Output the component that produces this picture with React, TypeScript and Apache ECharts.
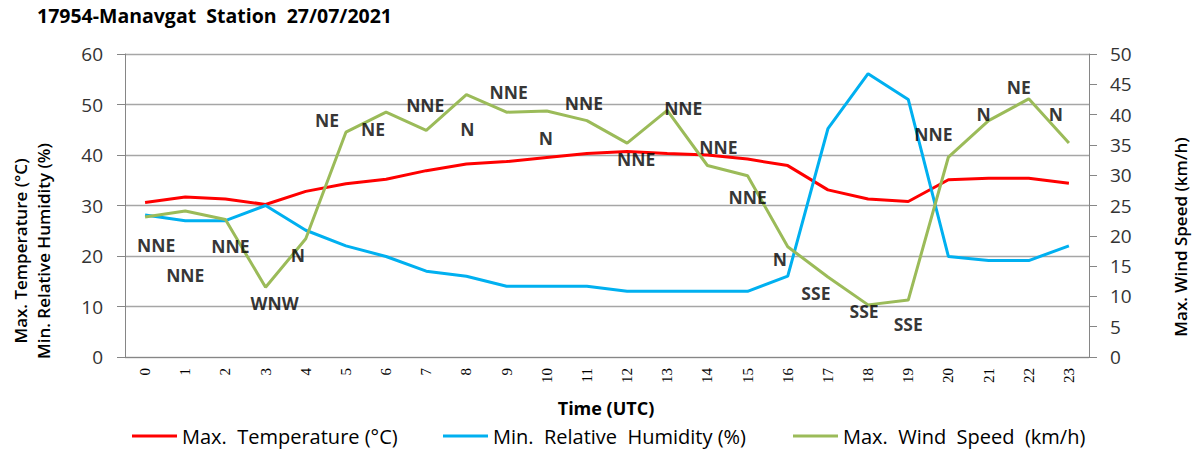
import React, { useEffect, useRef } from "react";
import * as echarts from "echarts";

const hours = ["0","1","2","3","4","5","6","7","8","9","10","11","12","13","14","15","16","17","18","19","20","21","22","23"];
const maxTemperature = [30.6, 31.7, 31.3, 30.2, 32.8, 34.3, 35.2, 36.9, 38.2, 38.7, 39.5, 40.3, 40.7, 40.3, 40.0, 39.2, 37.9, 33.1, 31.3, 30.8, 35.1, 35.4, 35.4, 34.4];
const minHumidity = [28.1, 27.0, 27.0, 30.0, 25.1, 22.0, 19.9, 17.0, 16.0, 14.0, 14.0, 14.0, 13.0, 13.0, 13.0, 13.0, 16.0, 45.2, 56.1, 51.0, 19.9, 19.1, 19.1, 22.0];
const maxWindSpeed = [23.1, 24.1, 22.7, 11.5, 19.5, 37.1, 40.4, 37.4, 43.3, 40.4, 40.6, 39.0, 35.3, 40.7, 31.6, 29.9, 18.2, 13.2, 8.6, 9.4, 33.0, 39.0, 42.6, 35.3];
const windDirection = ["NNE","NNE","NNE","WNW","N","NE","NE","NNE","N","NNE","N","NNE","NNE","NNE","NNE","NNE","N","SSE","SSE","SSE","NNE","N","NE","N"];

const seriesNames = ["Max.  Temperature (°C)", "Min.  Relative  Humidity (%)", "Max.  Wind  Speed  (km/h)"];

// layout: label offsets (px) relative to each wind point
const labelOffsets = [
  [11, 28], [0, 64], [5, 27], [9, 16], [-8, 16], [-19, -12], [-13, 17], [-1, -25],
  [1, 34], [2, -20], [-1, 27], [-3, -18], [9, 16], [16, -2], [11, -19], [0, 21],
  [-8, 12], [-12, 16], [-4, 6], [0, 24], [-15, -23], [-5, -7], [-10, -12], [-13, -29],
];

const FONT = "'Open Sans', 'Noto Sans', sans-serif";

export default function App() {
  const ref = useRef<HTMLDivElement>(null);
  useEffect(() => {
    document.body.style.margin = "0";
    document.body.style.overflow = "hidden";
    if (!ref.current) return;
    const chart = echarts.init(ref.current, undefined, { renderer: "svg" });
    const lineCommon = { type: "line", symbol: "none", smooth: false, z: 2 };
    chart.setOption({
      animation: false,
      backgroundColor: "#ffffff",
      textStyle: { fontFamily: FONT },
      title: {
        text: "17954-Manavgat  Station  27/07/2021",
        left: 37,
        top: 5,
        padding: 0,
        textStyle: { fontFamily: FONT, fontSize: 19.5, fontWeight: "bold", color: "#000" },
      },
      grid: { left: 125, right: 103, top: 54, bottom: 97, containLabel: false },
      legend: [
        { left: 132, top: 426, data: [seriesNames[0]] },
        { left: 443, top: 426, data: [seriesNames[1]] },
        { left: 793, top: 426, data: [seriesNames[2]] },
      ].map((l) => ({
        ...l,
        padding: 0,
        icon: "rect",
        itemWidth: 45,
        itemHeight: 3,
        itemGap: 0,
        textStyle: { fontFamily: FONT, fontSize: 20, color: "#000" },
      })),
      xAxis: {
        type: "category",
        data: hours,
        boundaryGap: true,
        axisLine: { lineStyle: { color: "#868686", width: 1 } },
        axisTick: { show: false },
        axisLabel: { rotate: 90, margin: 11, fontFamily: "'Liberation Serif', serif", fontSize: 15, color: "#000", interval: 0 },
        splitLine: { show: false },
      },
      yAxis: [
        {
          type: "value",
          min: 0,
          max: 60,
          interval: 10,
          axisLine: { show: true, lineStyle: { color: "#868686" } },
          axisTick: { show: true, length: 8, lineStyle: { color: "#868686" } },
          axisLabel: { fontFamily: FONT, fontSize: 19, color: "#333", margin: 22 },
          splitLine: { show: true, lineStyle: { color: "#a6a6a6", width: 1.3 } },
        },
        {
          type: "value",
          min: 0,
          max: 50,
          interval: 5,
          position: "right",
          axisLine: { show: true, lineStyle: { color: "#868686" } },
          axisTick: { show: true, length: 8, lineStyle: { color: "#868686" } },
          axisLabel: { fontFamily: FONT, fontSize: 19, color: "#333", margin: 21 },
          splitLine: { show: false },
        },
      ],
      graphic: [
        {
          type: "text", x: 20, y: 251, rotation: Math.PI / 2,
          style: { text: "Max. Temperature (°C)", fontFamily: FONT, fontSize: 17, fontWeight: 600, fill: "#000", textAlign: "center", textVerticalAlign: "middle" },
        },
        {
          type: "text", x: 43, y: 251, rotation: Math.PI / 2,
          style: { text: "Min. Relative Humidity (%)", fontFamily: FONT, fontSize: 17, fontWeight: 600, fill: "#000", textAlign: "center", textVerticalAlign: "middle" },
        },
        {
          type: "text", x: 1180, y: 237, rotation: Math.PI / 2,
          style: { text: "Max. Wind Speed (km/h)", fontFamily: FONT, fontSize: 17, fontWeight: 600, fill: "#000", textAlign: "center", textVerticalAlign: "middle" },
        },
        {
          type: "text", x: 606, y: 408,
          style: { text: "Time (UTC)", fontFamily: FONT, fontSize: 18, fontWeight: "bold", fill: "#000", textAlign: "center", textVerticalAlign: "middle" },
        },
      ],
      series: [
        { ...lineCommon, name: seriesNames[0], yAxisIndex: 0, data: maxTemperature, itemStyle: { color: "#ff0000" }, lineStyle: { color: "#ff0000", width: 3 } },
        { ...lineCommon, name: seriesNames[1], yAxisIndex: 0, data: minHumidity, itemStyle: { color: "#00b0f0" }, lineStyle: { color: "#00b0f0", width: 3 } },
        { ...lineCommon, name: seriesNames[2], yAxisIndex: 1, data: maxWindSpeed, itemStyle: { color: "#9bbb59" }, lineStyle: { color: "#9bbb59", width: 3 } },
        {
          type: "scatter",
          name: "dir",
          yAxisIndex: 1,
          symbolSize: 1,
          itemStyle: { color: "rgba(0,0,0,0)" },
          z: 5,
          data: maxWindSpeed.map((v, i) => ({
            value: v,
            label: {
              show: true,
              position: "inside",
              offset: labelOffsets[i],
              formatter: windDirection[i],
              fontFamily: FONT,
              fontSize: 17.5,
              fontWeight: "bold",
              color: "#000",
            },
          })),
        },
      ],
    });
    return () => chart.dispose();
  }, []);
  return <div ref={ref} style={{ width: 1192, height: 454 }} />;
}
